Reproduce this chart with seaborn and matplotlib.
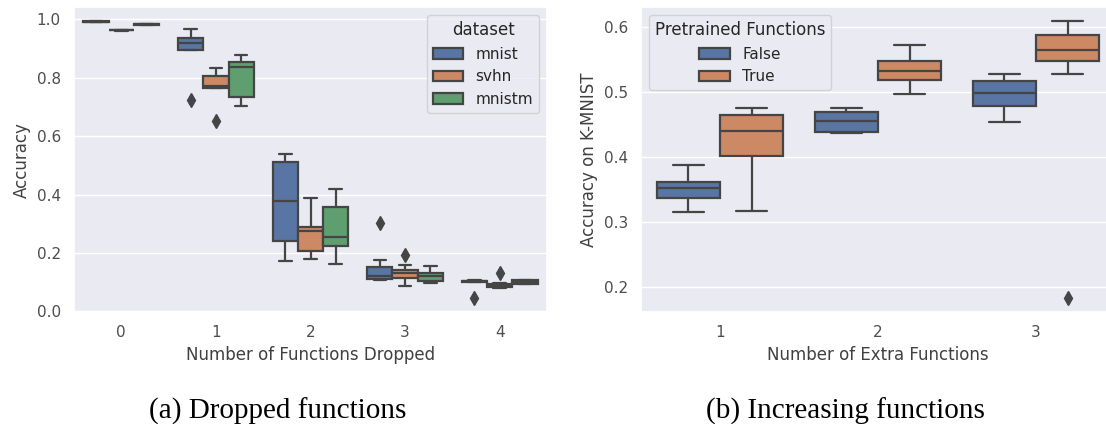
import matplotlib
matplotlib.use("Agg")
import matplotlib.pyplot as plt
import seaborn as sns
import pandas as pd

# ---------------- data ----------------
drop_counts = [0, 1, 2, 3, 4]
datasets = ["mnist", "svhn", "mnistm"]

mnist_drop = [
    [0.990, 0.991, 0.991, 0.992, 0.992, 0.992, 0.993, 0.993, 0.994],
    [0.725, 0.895, 0.896, 0.905, 0.918, 0.928, 0.935, 0.950, 0.967],
    [0.172, 0.200, 0.242, 0.310, 0.379, 0.450, 0.512, 0.530, 0.540],
    [0.106, 0.108, 0.110, 0.115, 0.122, 0.140, 0.153, 0.177, 0.304],
    [0.045, 0.100, 0.101, 0.102, 0.103, 0.104, 0.105, 0.106, 0.107],
]
svhn_drop = [
    [0.961, 0.962, 0.962, 0.963, 0.963, 0.963, 0.964, 0.964, 0.965],
    [0.653, 0.765, 0.766, 0.768, 0.771, 0.790, 0.805, 0.820, 0.835],
    [0.178, 0.190, 0.208, 0.250, 0.276, 0.283, 0.290, 0.330, 0.387],
    [0.087, 0.105, 0.115, 0.125, 0.131, 0.138, 0.143, 0.160, 0.192],
    [0.080, 0.081, 0.082, 0.084, 0.086, 0.090, 0.095, 0.096, 0.130],
]
mnistm_drop = [
    [0.981, 0.982, 0.982, 0.983, 0.983, 0.983, 0.984, 0.984, 0.985],
    [0.704, 0.720, 0.735, 0.800, 0.837, 0.845, 0.853, 0.865, 0.878],
    [0.163, 0.190, 0.225, 0.240, 0.253, 0.300, 0.357, 0.390, 0.420],
    [0.096, 0.100, 0.103, 0.110, 0.120, 0.126, 0.132, 0.145, 0.154],
    [0.092, 0.093, 0.094, 0.097, 0.100, 0.103, 0.106, 0.107, 0.108],
]

extra_counts = [1, 2, 3]
pretrained_levels = ["False", "True"]
extra_false = [
    [0.315, 0.325, 0.337, 0.345, 0.352, 0.357, 0.362, 0.375, 0.388],
    [0.437, 0.438, 0.439, 0.447, 0.456, 0.463, 0.469, 0.473, 0.476],
    [0.454, 0.466, 0.478, 0.490, 0.499, 0.508, 0.517, 0.522, 0.528],
]
extra_true = [
    [0.317, 0.370, 0.402, 0.420, 0.440, 0.455, 0.465, 0.470, 0.476],
    [0.497, 0.508, 0.519, 0.526, 0.533, 0.540, 0.547, 0.560, 0.573],
    [0.183, 0.527, 0.547, 0.555, 0.564, 0.575, 0.588, 0.600, 0.609],
]

# ---------------- tables ----------------
rows = []
for name, series in zip(datasets, [mnist_drop, svhn_drop, mnistm_drop]):
    for cnt, vals in zip(drop_counts, series):
        for v in vals:
            rows.append({"dropped": cnt, "dataset": name, "acc": v})
df_a = pd.DataFrame(rows)

rows = []
for lvl, series in zip(pretrained_levels, [extra_false, extra_true]):
    for cnt, vals in zip(extra_counts, series):
        for v in vals:
            rows.append({"extra": cnt, "Pretrained Functions": lvl, "acc": v})
df_b = pd.DataFrame(rows)

# ---------------- style ----------------
sns.set_theme(style="darkgrid", palette="deep", context="notebook")
plt.rcParams.update({
    "xtick.color": "0.25",
    "ytick.color": "0.25",
    "xtick.labelcolor": "0.3",
    "ytick.labelcolor": "0.3",
    "axes.labelcolor": "0.25",
})

fig = plt.figure(figsize=(11.06, 4.24), dpi=100)
W, H = 1106.0, 424.0
bottom = 1 - 312 / H
height = (312 - 7.3) / H
ax1 = fig.add_axes([74 / W, bottom, 473 / W, height])
ax2 = fig.add_axes([641 / W, bottom, 474 / W, height])

lc = "0.27"
flier = dict(marker="d", markersize=7, markerfacecolor=lc, markeredgecolor=lc)

sns.boxplot(data=df_a, x="dropped", y="acc", hue="dataset", hue_order=datasets,
            order=drop_counts, ax=ax1, linewidth=1.6, linecolor=lc,
            flierprops=flier, saturation=0.75)
ax1.set_xlabel("Number of Functions Dropped")
ax1.set_ylabel("Accuracy")
ax1.legend(title="dataset", loc="upper right")

sns.boxplot(data=df_b, x="extra", y="acc", hue="Pretrained Functions",
            hue_order=pretrained_levels, order=extra_counts, ax=ax2,
            linewidth=1.6, linecolor=lc, flierprops=flier, saturation=0.75)
ax2.set_xlabel("Number of Extra Functions")
ax2.set_ylabel("Accuracy on K-MNIST")
ax2.legend(title="Pretrained Functions", loc="upper left")

fig.text(278 / W, 0.012, "(a) Dropped functions", ha="center", va="baseline",
         family="Liberation Serif", fontsize=21, color="black")
fig.text(845 / W, 0.012, "(b) Increasing functions", ha="center", va="baseline",
         family="Liberation Serif", fontsize=21, color="black")

fig.savefig("out.png", dpi=100)
